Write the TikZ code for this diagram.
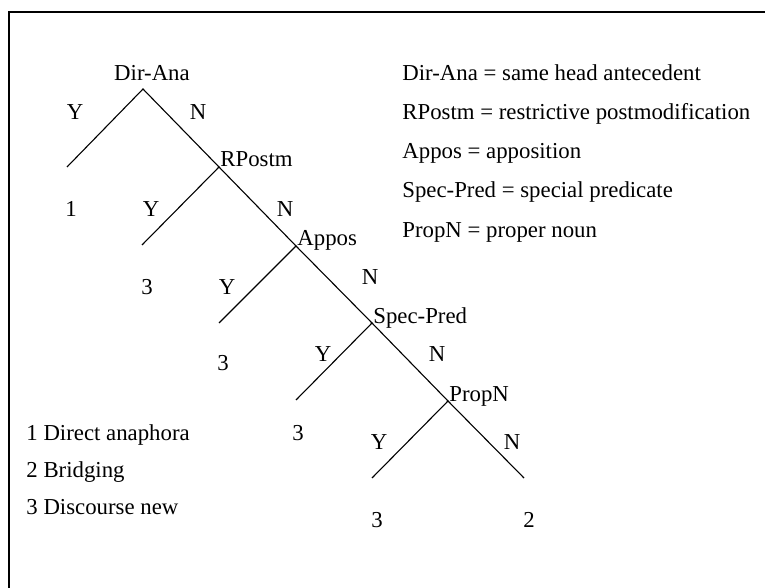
\documentclass[tikz,border=0pt]{standalone}
\usepackage{fontspec}
\setmainfont{Liberation Serif}
\usepackage{tikz}

\tikzset{
  etiq/.style={font=\fontsize{11.4}{13}\selectfont, inner sep=0pt},
  rama/.style={line width=0.55pt}
}

\begin{document}
\begin{tikzpicture}[x=0.5pt, y=-0.5pt]
    \useasboundingbox (0,0) rectangle (765,588);
    % Marco
    \draw[line width=0.6pt] (9,588) -- (9,12) -- (765,12);

    % Puntos de decision
    \coordinate (D) at (143,89);
    \coordinate (R) at (219,167);
    \coordinate (A) at (296,246);
    \coordinate (S) at (372,323);
    \coordinate (P) at (448,401);

    % Hojas
    \coordinate (H1) at (67,167);
    \coordinate (H2) at (142,245);
    \coordinate (H3) at (219,323);
    \coordinate (H4) at (296,400);
    \coordinate (H5) at (372,478);
    \coordinate (H6) at (524,478);

    % Nombres de los nodos
    \node[etiq, anchor=base] (Dl) at (152,81) {Dir-Ana};
    \node[etiq, anchor=base west] (Rl) at (220,167) {RPostm};
    \node[etiq, anchor=base west] (Al) at (297,246) {Appos};
    \node[etiq, anchor=base west] (Sl) at (373,323) {Spec-Pred};
    \node[etiq, anchor=base west] (Pl) at (449,401) {PropN};

    % Ramas
    \draw[rama] (H1) -- (D) -- (R);
    \draw[rama] (H2) -- (R) -- (A);
    \draw[rama] (H3) -- (A) -- (S);
    \draw[rama] (H4) -- (S) -- (P);
    \draw[rama] (H5) -- (P) -- (H6);

    % Etiquetas Y / N
    \node[etiq] (y1) at (75,112) {Y};
    \node[etiq] (n1) at (198,112) {N};
    \node[etiq] (y2) at (151,209) {Y};
    \node[etiq] (n2) at (285,209) {N};
    \node[etiq] (y3) at (227,287) {Y};
    \node[etiq] (n3) at (370,277) {N};
    \node[etiq] (y4) at (323,354) {Y};
    \node[etiq] (n4) at (437,354) {N};
    \node[etiq] (y5) at (379,442) {Y};
    \node[etiq] (n5) at (512,442) {N};

    % Clases en las hojas
    \node[etiq] (c1) at (71,209) {1};
    \node[etiq] (c2) at (147,287) {3};
    \node[etiq] (c3) at (223,363) {3};
    \node[etiq] (c4) at (298,433) {3};
    \node[etiq] (c5) at (377,520) {3};
    \node[etiq] (c6) at (529,520) {2};

    % Abreviaturas
    \node[etiq, anchor=base west] (ab1) at (402,81) {Dir-Ana = same head antecedent};
    \node[etiq, anchor=base west] (ab2) at (402,120) {RPostm = restrictive postmodification};
    \node[etiq, anchor=base west] (ab3) at (402,159) {Appos = apposition};
    \node[etiq, anchor=base west] (ab4) at (402,198) {Spec-Pred = special predicate};
    \node[etiq, anchor=base west] (ab5) at (402,237) {PropN = proper noun};

    % Leyenda de clases
    \node[etiq, anchor=base west] (le1) at (26,440) {1 Direct anaphora};
    \node[etiq, anchor=base west] (le2) at (26,477) {2 Bridging};
    \node[etiq, anchor=base west] (le3) at (26,514) {3 Discourse new};
\end{tikzpicture}
\end{document}
